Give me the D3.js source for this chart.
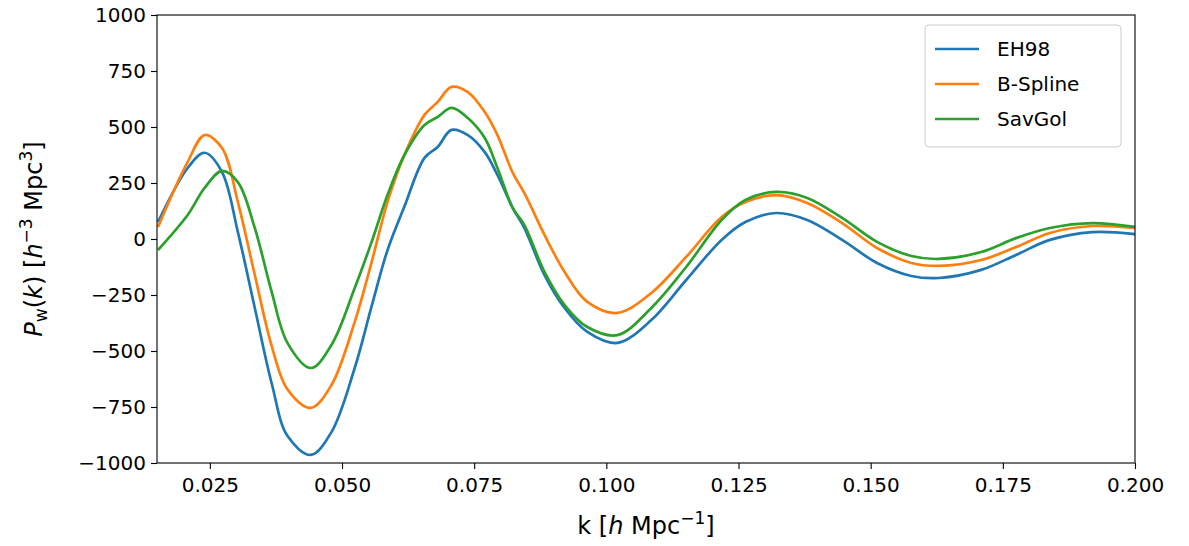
<!DOCTYPE html>
<html>
<head>
<meta charset="utf-8">
<script src="https://cdn.jsdelivr.net/npm/d3@7"></script>
<style>
  body { margin: 0; background: #fff; }
  text { font-family: "DejaVu Sans", sans-serif; }
</style>
</head>
<body>
<div id="chart"></div>
<script>
// data
var kValues = [0.0152,0.0208,0.0240,0.0273,0.0303,0.0335,0.0367,0.0397,0.0441,0.0480,0.0524,0.0556,0.0586,0.0618,0.0656,0.0681,0.0707,0.0738,0.0770,0.0794,0.0823,0.0845,0.0883,0.0921,0.0964,0.1021,0.1085,0.1151,0.1218,0.1263,0.1321,0.1380,0.1446,0.1512,0.1577,0.1629,0.1709,0.1775,0.1839,0.1919,0.2000];
var eh98 = [76,317,385,299,31,-308,-645,-880,-964,-862,-576,-300,-50,145,362,411,487,464,388,286,138,49,-161,-308,-415,-464,-362,-183,-4,76,116,85,-4,-107,-165,-174,-138,-71,-4,31,22];
var bspline = [54,344,464,406,165,-161,-478,-672,-754,-652,-370,-103,165,375,554,612,679,656,567,464,295,205,18,-147,-281,-330,-241,-80,98,165,196,161,71,-40,-107,-120,-94,-36,27,58,49];
var savgol = [-49,107,228,304,254,49,-237,-465,-576,-473,-219,-13,196,375,509,545,585,540,451,317,138,62,-147,-295,-393,-429,-308,-125,85,174,210,183,94,-13,-76,-89,-58,4,49,71,54];
var seriesNames = ["EH98", "B-Spline", "SavGol"];
var seriesColors = ["#1f77b4", "#ff7f0e", "#2ca02c"];
var xTicks = [0.025,0.05,0.075,0.1,0.125,0.15,0.175,0.2];
var yTicks = [-1000,-750,-500,-250,0,250,500,750,1000];

var svgWidth = 1189, svgHeight = 546;
var margin = { top: 15, right: 54, bottom: 83, left: 157 };
var width = svgWidth - margin.left - margin.right;
var height = svgHeight - margin.top - margin.bottom;

var svg = d3.select("#chart").append("svg")
  .attr("width", svgWidth).attr("height", svgHeight);
var g = svg.append("g").attr("transform", `translate(${margin.left}, ${margin.top})`);

var x = d3.scaleLinear().domain([0.015, 0.2]).range([0, width]);
var y = d3.scaleLinear().domain([-1000, 1000]).range([height, 0]);

g.append("clipPath").attr("id", "clip")
  .append("rect").attr("width", width).attr("height", height);

var allSeries = [eh98, bspline, savgol];
var line = d3.line()
  .x((d, i) => x(kValues[i]))
  .y(d => y(d))
  .curve(d3.curveCatmullRom);

allSeries.forEach((s, i) => {
  g.append("path")
    .attr("clip-path", "url(#clip)")
    .attr("d", line(s))
    .attr("fill", "none")
    .attr("stroke", seriesColors[i])
    .attr("stroke-width", 2.7);
});

// axes
var bottomAxis = d3.axisBottom(x).tickValues(xTicks).tickFormat(d3.format(".3f")).tickSizeOuter(0).tickSize(6);
var leftAxis = d3.axisLeft(y).tickValues(yTicks).tickFormat(d => d < 0 ? "\u2212" + Math.abs(d) : d).tickSizeOuter(0).tickSize(6);

var xa = g.append("g").attr("transform", `translate(0, ${height})`).call(bottomAxis);
var ya = g.append("g").call(leftAxis);
[xa, ya].forEach(a => {
  a.selectAll("text").attr("font-size", 20).attr("fill", "#000").style("font-family", "DejaVu Sans");
  a.selectAll("line").attr("stroke", "#000").attr("stroke-width", 1.1);
  a.select(".domain").remove();
});
xa.selectAll("text").attr("dy", "1.0em");
ya.selectAll("text").attr("dx", "-0.1em");

g.append("rect").attr("width", width).attr("height", height)
  .attr("fill", "none").attr("stroke", "#000").attr("stroke-width", 1.1);

// axis labels
var xl = svg.append("text")
  .attr("x", margin.left + width / 2).attr("y", 534)
  .attr("text-anchor", "middle").attr("font-size", 24);
xl.append("tspan").text("k [");
xl.append("tspan").attr("font-style", "italic").text("h");
xl.append("tspan").text(" Mpc");
xl.append("tspan").attr("font-size", 17).attr("dy", -10).text("\u22121");
xl.append("tspan").attr("dy", 10).text("]");

var yl = svg.append("text")
  .attr("transform", `translate(42, ${margin.top + height / 2}) rotate(-90)`)
  .attr("text-anchor", "middle").attr("font-size", 24);
yl.append("tspan").attr("font-style", "italic").text("P");
yl.append("tspan").attr("font-size", 17).attr("dy", 5).text("w");
yl.append("tspan").attr("dy", -5).text("(");
yl.append("tspan").attr("font-style", "italic").text("k");
yl.append("tspan").text(") [");
yl.append("tspan").attr("font-style", "italic").text("h");
yl.append("tspan").attr("font-size", 17).attr("dy", -10).text("\u22123");
yl.append("tspan").attr("dy", 10).text(" Mpc");
yl.append("tspan").attr("font-size", 17).attr("dy", -10).text("3");
yl.append("tspan").attr("dy", 10).text("]");

// legend
var lg = svg.append("g").attr("transform", "translate(925, 25)");
lg.append("rect").attr("width", 196).attr("height", 122).attr("rx", 4)
  .attr("fill", "#fff").attr("fill-opacity", 0.8).attr("stroke", "#ccc");
seriesNames.forEach((n, i) => {
  var yy = 24 + i * 35;
  lg.append("line").attr("x1", 10).attr("x2", 54).attr("y1", yy).attr("y2", yy)
    .attr("stroke", seriesColors[i]).attr("stroke-width", 2.7);
  lg.append("text").attr("x", 72).attr("y", yy + 7).attr("font-size", 20).text(n);
});
</script>
</body>
</html>
